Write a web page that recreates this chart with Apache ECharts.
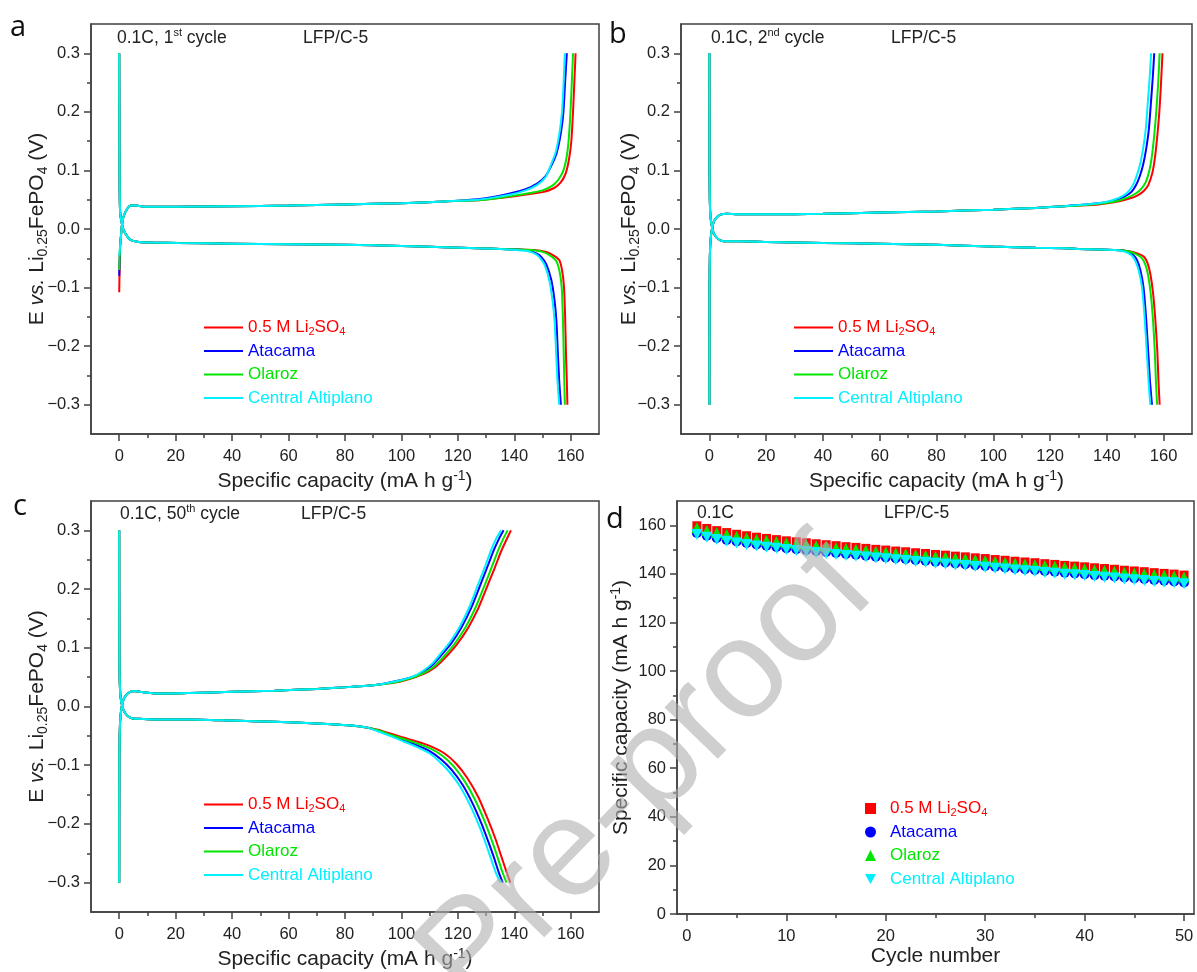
<!DOCTYPE html>
<html>
<head>
<meta charset="utf-8">
<script src="https://cdn.jsdelivr.net/npm/echarts/dist/echarts.min.js"></script>
<style>
html, body { margin: 0; padding: 0; background: #fff; }
#main { width: 1197px; height: 972px; }
</style>
</head>
<body>
<div id="main"></div>
<script>
// series order: red, blue, green, cyan (cyan drawn last, on top)
var SERIES_NAMES = ['0.5 M Li2SO4', 'Atacama', 'Olaroz', 'Central Altiplano'];
var COLORS = ['#ff0000', '#0000ff', '#00e600', '#00f0ff'];

// tick labels
var CAP_TICKS = [0, 20, 40, 60, 80, 100, 120, 140, 160];
var CAP_MINOR = [10, 30, 50, 70, 90, 110, 130, 150];
var E_TICKS = [-0.3, -0.2, -0.1, 0, 0.1, 0.2, 0.3];
var E_MINOR = [-0.25, -0.15, -0.05, 0.05, 0.15, 0.25];
var CYC_TICKS = [0, 10, 20, 30, 40, 50];
var CYC_MINOR = [5, 15, 25, 35, 45];
var SC_TICKS = [0, 20, 40, 60, 80, 100, 120, 140, 160];
var SC_MINOR = [10, 30, 50, 70, 90, 110, 130, 150];

// ---- panel a : 1st cycle ----
var A_CHG_START = [-0.108, -0.08, -0.07, -0.045];
var A_CHG_HEAD = [[0.3, -0.03], [0.6, -0.013], [0.9, 0.004], [1.5, 0.021], [2.9, 0.035], [4.1, 0.04], [6, 0.04], [9.4, 0.038],
  [20, 0.038], [40, 0.039], [60, 0.04], [80, 0.042], [100, 0.044], [115, 0.047]];
var A_CHG_TAIL = [
  [[127, 0.049], [133, 0.052], [140, 0.056], [146, 0.06], [150, 0.063], [154.1, 0.07], [156.5, 0.08], [158.2, 0.095], [159.4, 0.12], [160.2, 0.15], [160.8, 0.2], [161.2, 0.243], [161.7, 0.3]],
  [[127, 0.051], [133, 0.055], [138.8, 0.061], [144, 0.068], [148.2, 0.078], [151, 0.09], [152.9, 0.106], [155, 0.13], [156.5, 0.164], [157.4, 0.2], [157.9, 0.243], [158.6, 0.3]],
  [[127, 0.049], [133, 0.052], [140, 0.057], [146, 0.062], [150, 0.066], [153.5, 0.074], [155.7, 0.085], [157.4, 0.1], [158.6, 0.125], [159.3, 0.155], [159.9, 0.2], [160.3, 0.243], [160.8, 0.3]],
  [[127, 0.05], [133, 0.054], [138.8, 0.059], [144, 0.066], [148, 0.075], [151, 0.088], [152.6, 0.105], [154.6, 0.13], [156, 0.164], [156.9, 0.2], [157.4, 0.243], [157.9, 0.3]]
];
var A_DCH_HEAD = [[0, 0.3], [0.1, 0.1], [0.2, 0.05], [0.35, 0.027], [0.9, 0.01], [1.5, -0.001], [2.9, -0.013], [4.1, -0.019], [7, -0.022],
  [12, -0.023], [21, -0.024], [40, -0.025], [60, -0.026], [80, -0.027], [100, -0.029], [115, -0.031]];
var A_DCH_TAIL = [
  [[127, -0.033], [135, -0.034], [141, -0.035], [147, -0.036], [151, -0.039], [153.5, -0.044], [155.9, -0.053], [156.9, -0.07], [157.6, -0.099], [158, -0.15], [158.3, -0.212], [158.6, -0.26], [158.8, -0.3]],
  [[127, -0.033], [135, -0.034], [141, -0.035], [145, -0.037], [148, -0.042], [149.6, -0.048], [151.3, -0.06], [153.1, -0.087], [154.2, -0.12], [154.9, -0.156], [155.4, -0.21], [155.9, -0.26], [156.5, -0.3]],
  [[127, -0.033], [135, -0.034], [141, -0.035], [146, -0.036], [150, -0.039], [152.6, -0.045], [154.9, -0.055], [156, -0.072], [156.8, -0.1], [157.2, -0.15], [157.5, -0.212], [157.7, -0.26], [157.9, -0.3]],
  [[127, -0.033], [135, -0.034], [141, -0.036], [145, -0.038], [147.6, -0.043], [149.2, -0.05], [150.8, -0.062], [152.5, -0.09], [153.6, -0.125], [154.3, -0.16], [154.8, -0.21], [155.3, -0.26], [155.9, -0.3]]
];

// ---- panel b : 2nd cycle ----
var B_CHG_HEAD = [[0, -0.3], [0.05, -0.1], [0.15, -0.05], [0.4, -0.02], [0.9, 0], [1.6, 0.013], [2.8, 0.021], [4.2, 0.025], [6, 0.026],
  [10, 0.025], [20, 0.025], [40, 0.026], [60, 0.028], [80, 0.03], [100, 0.033], [115, 0.036], [125, 0.039]];
var B_CHG_TAIL = [
  [[130, 0.04], [137, 0.042], [143, 0.046], [148, 0.052], [151, 0.058], [153, 0.065], [154.6, 0.075], [156, 0.095], [156.9, 0.12], [157.8, 0.16], [158.5, 0.2], [159.1, 0.25], [159.6, 0.3]],
  [[130, 0.041], [137, 0.044], [142, 0.048], [146, 0.055], [148.6, 0.063], [150.3, 0.075], [151.6, 0.09], [152.8, 0.11], [153.8, 0.135], [154.8, 0.17], [155.6, 0.22], [156.2, 0.26], [156.7, 0.3]],
  [[130, 0.04], [137, 0.043], [143, 0.047], [147.5, 0.054], [150.3, 0.061], [152.2, 0.069], [153.7, 0.08], [154.9, 0.098], [155.8, 0.122], [156.7, 0.16], [157.4, 0.2], [158.1, 0.25], [158.6, 0.3]],
  [[130, 0.041], [137, 0.044], [142, 0.049], [145.5, 0.056], [147.8, 0.065], [149.4, 0.077], [150.6, 0.092], [151.7, 0.11], [152.7, 0.135], [153.7, 0.17], [154.5, 0.22], [155.1, 0.26], [155.6, 0.3]]
];
var B_DCH_HEAD = [[0, 0.3], [0.05, 0.1], [0.15, 0.05], [0.4, 0.02], [0.9, 0.004], [1.6, -0.008], [2.8, -0.016], [4.2, -0.02], [6, -0.021],
  [10, -0.021], [20, -0.022], [40, -0.024], [60, -0.025], [80, -0.027], [100, -0.03], [115, -0.032], [125, -0.033]];
var B_DCH_TAIL = [
  [[130, -0.034], [137, -0.035], [143, -0.036], [148, -0.038], [151, -0.042], [153, -0.047], [154.3, -0.058], [155.3, -0.076], [156.3, -0.11], [157.1, -0.156], [157.8, -0.21], [158.2, -0.26], [158.6, -0.3]],
  [[130, -0.034], [137, -0.035], [143, -0.036], [147, -0.038], [149.2, -0.044], [150.6, -0.053], [151.8, -0.07], [152.9, -0.099], [153.8, -0.15], [154.6, -0.212], [155.2, -0.26], [155.9, -0.3]],
  [[130, -0.034], [137, -0.035], [143, -0.036], [147.5, -0.038], [150.3, -0.043], [152.2, -0.049], [153.5, -0.06], [154.5, -0.078], [155.5, -0.112], [156.3, -0.158], [156.9, -0.21], [157.3, -0.26], [157.7, -0.3]],
  [[130, -0.034], [137, -0.035], [143, -0.036], [146.5, -0.039], [148.7, -0.045], [150.1, -0.055], [151.3, -0.072], [152.4, -0.1], [153.3, -0.15], [154.1, -0.212], [154.7, -0.26], [155.3, -0.3]]
];

// ---- panel c : 50th cycle ----
var C_CHG_HEAD = [[0, -0.3], [0.05, -0.1], [0.15, -0.05], [0.4, -0.02], [0.9, 0], [1.7, 0.014], [3, 0.022], [4.5, 0.026], [6, 0.026],
  [9, 0.024], [15, 0.022], [25, 0.023], [40, 0.025], [55, 0.027], [70, 0.03], [81, 0.033], [90, 0.036]];
var C_CHG_TAIL = [
  [[95, 0.039], [100, 0.043], [105, 0.05], [109.4, 0.059], [112.5, 0.069], [115.3, 0.082], [119.5, 0.105], [123.5, 0.133], [127.3, 0.168], [130.6, 0.207], [133.2, 0.238], [135.3, 0.264], [137.2, 0.284], [138.8, 0.3]],
  [[95, 0.04], [100, 0.045], [105, 0.052], [108.6, 0.062], [111.3, 0.072], [113.7, 0.085], [117.7, 0.108], [121.4, 0.136], [125, 0.171], [128.2, 0.21], [130.7, 0.241], [132.8, 0.267], [134.6, 0.286], [136.2, 0.3]],
  [[95, 0.039], [100, 0.044], [105, 0.051], [109, 0.06], [112, 0.07], [114.6, 0.083], [118.7, 0.106], [122.6, 0.134], [126.3, 0.169], [129.6, 0.208], [132.1, 0.239], [134.2, 0.265], [136, 0.285], [137.6, 0.3]],
  [[95, 0.04], [100, 0.045], [105, 0.053], [108.3, 0.063], [110.9, 0.073], [113.2, 0.086], [117.1, 0.109], [120.8, 0.137], [124.3, 0.172], [127.4, 0.211], [129.9, 0.242], [131.9, 0.268], [133.7, 0.287], [135.3, 0.3]]
];
var C_DCH_HEAD = [[0, 0.3], [0.05, 0.1], [0.15, 0.05], [0.4, 0.02], [0.9, 0.004], [1.7, -0.008], [3, -0.016], [4.5, -0.02], [7, -0.021],
  [12, -0.022], [25, -0.022], [40, -0.024], [55, -0.026], [70, -0.029], [81, -0.032], [88, -0.036]];
var C_DCH_TAIL = [
  [[92, -0.04], [96, -0.046], [100, -0.052], [105, -0.059], [110, -0.067], [115.3, -0.08], [119.5, -0.098], [123.5, -0.123], [127.3, -0.155], [130.6, -0.192], [133.2, -0.224], [135.3, -0.254], [137.1, -0.28], [138.6, -0.3]],
  [[92, -0.042], [96, -0.049], [100, -0.056], [105, -0.065], [110, -0.076], [114, -0.09], [117.8, -0.108], [121.6, -0.133], [125.2, -0.165], [128.4, -0.2], [130.9, -0.232], [132.9, -0.259], [134.5, -0.283], [135.9, -0.3]],
  [[92, -0.041], [96, -0.048], [100, -0.054], [105, -0.062], [110, -0.071], [114.5, -0.084], [118.5, -0.102], [122.5, -0.128], [126.2, -0.16], [129.5, -0.196], [132, -0.228], [134, -0.256], [135.7, -0.281], [137.2, -0.3]],
  [[92, -0.043], [96, -0.05], [100, -0.058], [105, -0.068], [110, -0.08], [113.5, -0.094], [117.1, -0.112], [120.6, -0.135], [124.3, -0.168], [127.5, -0.203], [130, -0.235], [131.9, -0.262], [133.6, -0.285], [135.1, -0.3]]
];

// ---- panel d : capacity vs cycle ----
var CYCLES = [1, 2, 3, 4, 5, 6, 7, 8, 9, 10, 11, 12, 13, 14, 15, 16, 17, 18, 19, 20, 21, 22, 23, 24, 25,
  26, 27, 28, 29, 30, 31, 32, 33, 34, 35, 36, 37, 38, 39, 40, 41, 42, 43, 44, 45, 46, 47, 48, 49, 50];
var CAP_LI2SO4 = [159.8, 158.7, 157.8, 157.0, 156.3, 155.7, 155.1, 154.6, 154.1, 153.6, 153.2, 152.8, 152.4, 152.0, 151.6,
  151.2, 150.9, 150.5, 150.1, 149.8, 149.4, 149.1, 148.7, 148.4, 148.0, 147.7, 147.3, 147.0, 146.6, 146.3, 145.9, 145.6,
  145.2, 144.9, 144.6, 144.2, 143.9, 143.5, 143.2, 142.9, 142.5, 142.2, 141.9, 141.5, 141.2, 140.9, 140.5, 140.2, 139.9, 139.5];
var CAP_ATACAMA = [156.8, 155.7, 154.8, 154.0, 153.3, 152.7, 152.1, 151.6, 151.1, 150.6, 150.2, 149.8, 149.4, 149.0, 148.6,
  148.2, 147.9, 147.5, 147.1, 146.8, 146.4, 146.1, 145.7, 145.4, 145.0, 144.7, 144.3, 144.0, 143.6, 143.3, 142.9, 142.6,
  142.2, 141.9, 141.6, 141.2, 140.9, 140.5, 140.2, 139.9, 139.5, 139.2, 138.9, 138.5, 138.2, 137.9, 137.5, 137.2, 136.9, 136.5];
var CAP_OLAROZ = [159.0, 157.9, 157.0, 156.2, 155.5, 154.9, 154.3, 153.8, 153.3, 152.8, 152.4, 152.0, 151.6, 151.2, 150.8,
  150.4, 150.1, 149.7, 149.3, 149.0, 148.6, 148.3, 147.9, 147.6, 147.2, 146.9, 146.5, 146.2, 145.8, 145.5, 145.1, 144.8,
  144.4, 144.1, 143.8, 143.4, 143.1, 142.7, 142.4, 142.1, 141.7, 141.4, 141.1, 140.7, 140.4, 140.1, 139.7, 139.4, 139.1, 138.7];
var CAP_ALTIPLANO = [156.2, 155.1, 154.2, 153.4, 152.7, 152.1, 151.5, 151.0, 150.5, 150.0, 149.6, 149.2, 148.8, 148.4, 148.0,
  147.6, 147.3, 146.9, 146.5, 146.2, 145.8, 145.5, 145.1, 144.8, 144.4, 144.1, 143.7, 143.4, 143.0, 142.7, 142.3, 142.0,
  141.6, 141.3, 141.0, 140.6, 140.3, 139.9, 139.6, 139.3, 138.9, 138.6, 138.3, 137.9, 137.6, 137.3, 136.9, 136.6, 136.3, 135.9];

var FONT = '"Liberation Sans", Arial, sans-serif';
var INK = '#222';
var AXIS_COLOR = '#404040';

function richSet(size, color) {
  return {
    n: { fontSize: size, lineHeight: size + 4, verticalAlign: 'middle', color: color, fontFamily: FONT },
    i: { fontSize: size, lineHeight: size + 4, verticalAlign: 'middle', color: color, fontFamily: FONT, fontStyle: 'italic' },
    sub: { fontSize: Math.round(size * 0.65), verticalAlign: 'bottom', color: color, fontFamily: FONT },
    sup: { fontSize: Math.round(size * 0.65), verticalAlign: 'top', color: color, fontFamily: FONT }
  };
}

var chart = echarts.init(document.getElementById('main'));

var grids = [
  { left: 91, top: 24, width: 508, height: 410 },
  { left: 681, top: 24, width: 511, height: 410 },
  { left: 91, top: 501, width: 508, height: 411 },
  { left: 677, top: 501, width: 517, height: 413 }
];
grids.forEach(function (g) {
  g.show = true; g.borderColor = AXIS_COLOR; g.borderWidth = 1.5; g.backgroundColor = 'transparent';
});

var CAP_NAME = '{n|Specific capacity (mA h g}{sup|-1}{n|)}';
var E_NAME = '{n|E }{i|vs.}{n| Li}{sub|0.25}{n|FePO}{sub|4}{n| (V)}';

function fmtE(v) { return (v < 0 ? '\u2212' : '') + Math.abs(v).toFixed(1); }

function mainAxis(gi, pos, min, max, ticks, name, nameGap, fmt, labelMargin) {
  return {
    type: 'value', gridIndex: gi, position: pos, min: min, max: max,
    name: name, nameLocation: 'middle', nameGap: nameGap, nameMoveOverlap: false,
    nameTextStyle: { fontSize: 21, fontFamily: FONT, color: INK, rich: richSet(21, INK) },
    axisLine: { show: true, onZero: false, lineStyle: { color: AXIS_COLOR, width: 1.5 } },
    axisTick: { show: true, inside: false, length: 7, customValues: ticks, lineStyle: { color: AXIS_COLOR, width: 1.5 } },
    axisLabel: { show: true, customValues: ticks, margin: labelMargin, fontSize: 16.5, fontFamily: FONT, color: INK, formatter: fmt },
    splitLine: { show: false }
  };
}
function minorAxis(gi, pos, min, max, ticks) {
  return {
    type: 'value', gridIndex: gi, position: pos, min: min, max: max,
    axisLine: { show: false, onZero: false },
    axisTick: { show: true, inside: false, length: 4, customValues: ticks, lineStyle: { color: AXIS_COLOR, width: 1.5 } },
    axisLabel: { show: false },
    splitLine: { show: false }
  };
}

function plain(v) { return String(v); }

var xAxes = [], yAxes = [];
for (var p = 0; p < 3; p++) {
  xAxes.push(mainAxis(p, 'bottom', -10, 170, CAP_TICKS, CAP_NAME, 35, plain, 14));
  xAxes.push(minorAxis(p, 'bottom', -10, 170, CAP_MINOR));
  yAxes.push(mainAxis(p, 'left', -0.35, 0.35, E_TICKS, E_NAME, p === 1 ? 39 : 41, fmtE, 11));
  yAxes.push(minorAxis(p, 'left', -0.35, 0.35, E_MINOR));
}
xAxes.push(mainAxis(3, 'bottom', -1, 51, CYC_TICKS, 'Cycle number', 32, plain, 14));
xAxes.push(minorAxis(3, 'bottom', -1, 51, CYC_MINOR));
yAxes.push(mainAxis(3, 'left', 0, 170, SC_TICKS, CAP_NAME, 43, plain, 11));
yAxes.push(minorAxis(3, 'left', 0, 170, SC_MINOR));

var series = [];
function addCurves(panel, chgHeads, chgTails, dchHead, dchTails) {
  for (var k = 0; k < 4; k++) {
    var common = {
      name: SERIES_NAMES[k], type: 'line', xAxisIndex: panel * 2, yAxisIndex: panel * 2,
      symbol: 'none', showSymbol: false, smooth: 0.2, animation: false,
      lineStyle: { width: 2, color: COLORS[k] }, itemStyle: { color: COLORS[k] }, z: 2 + k
    };
    series.push(Object.assign({}, common, { data: dchHead.concat(dchTails[k]) }));
    series.push(Object.assign({}, common, { data: chgHeads[k].concat(chgTails[k]) }));
  }
}
addCurves(0, A_CHG_START.map(function (s) { return [[0, s]].concat(A_CHG_HEAD); }), A_CHG_TAIL, A_DCH_HEAD, A_DCH_TAIL);
addCurves(1, [B_CHG_HEAD, B_CHG_HEAD, B_CHG_HEAD, B_CHG_HEAD], B_CHG_TAIL, B_DCH_HEAD, B_DCH_TAIL);
addCurves(2, [C_CHG_HEAD, C_CHG_HEAD, C_CHG_HEAD, C_CHG_HEAD], C_CHG_TAIL, C_DCH_HEAD, C_DCH_TAIL);

var CAPS = [CAP_LI2SO4, CAP_ATACAMA, CAP_OLAROZ, CAP_ALTIPLANO];
var SYMBOLS = ['rect', 'circle', 'triangle', 'triangle'];
var SYMBOL_ROT = [0, 0, 0, 180];
var SYMBOL_SIZE = [9, 10, 11, 11];
for (var k = 0; k < 4; k++) {
  series.push({
    name: SERIES_NAMES[k], type: 'scatter', xAxisIndex: 6, yAxisIndex: 6, animation: false,
    symbol: SYMBOLS[k], symbolRotate: SYMBOL_ROT[k], symbolSize: SYMBOL_SIZE[k],
    itemStyle: { color: COLORS[k], opacity: 1 }, z: 2 + k,
    data: CYCLES.map(function (c, i) { return [c, CAPS[k][i]]; })
  });
}

var legendRich = {
  rn: { color: COLORS[0], fontSize: 17, lineHeight: 19, verticalAlign: 'middle', fontFamily: FONT },
  rs: { color: COLORS[0], fontSize: 11, verticalAlign: 'bottom', fontFamily: FONT }
};
function legendFmt(name) {
  return name === SERIES_NAMES[0] ? '{rn|0.5 M Li}{rs|2}{rn|SO}{rs|4}' : name;
}
function lineLegend(left, top) {
  return {
    left: left, top: top, padding: 0, orient: 'vertical', icon: 'rect', itemWidth: 39, itemHeight: 2, itemGap: 4.5,
    selectedMode: false, formatter: legendFmt,
    textStyle: { fontSize: 17, lineHeight: 19, fontFamily: FONT, rich: legendRich },
    data: SERIES_NAMES.map(function (n, k) { return { name: n, textStyle: { color: COLORS[k] } }; })
  };
}
var D_ICONS = ['rect', 'circle', 'triangle', 'path://M0,0L10,0L5,9Z'];
var legends = [
  lineLegend(204, 318),
  lineLegend(794, 318),
  lineLegend(204, 795),
  {
    left: 865, top: 799, padding: 0, orient: 'vertical', itemWidth: 11, itemHeight: 11, itemGap: 4.5,
    selectedMode: false, formatter: legendFmt,
    textStyle: { fontSize: 17, lineHeight: 19, fontFamily: FONT, rich: legendRich, padding: [0, 0, 0, 9] },
    data: SERIES_NAMES.map(function (n, k) { return { name: n, icon: D_ICONS[k], textStyle: { color: COLORS[k] } }; })
  }
];

function note(x, y, text, size) {
  return {
    type: 'text', x: x, y: y, z: 50,
    style: { text: text, rich: richSet(size, INK), fontSize: size, fontFamily: FONT, fill: INK,
      textAlign: 'left', textVerticalAlign: 'middle', align: 'left', verticalAlign: 'middle' }
  };
}
function letter(x, y, t) {
  return {
    type: 'text', x: x, y: y, z: 50,
    style: { text: t, fontSize: 29, fontFamily: '"Open Sans", sans-serif', fill: '#111',
      textAlign: 'left', textVerticalAlign: 'middle', align: 'left', verticalAlign: 'middle' }
  };
}

var graphics = [
  letter(10, 28, 'a'), letter(609, 35, 'b'), letter(13, 507, 'c'), letter(606, 520, 'd'),
  note(117, 38, '{n|0.1C, 1}{sup|st}{n| cycle}', 17.5), note(303, 38, '{n|LFP/C-5}', 17.5),
  note(711, 38, '{n|0.1C, 2}{sup|nd}{n| cycle}', 17.5), note(891, 38, '{n|LFP/C-5}', 17.5),
  note(120, 514, '{n|0.1C, 50}{sup|th}{n| cycle}', 17.5), note(301, 514, '{n|LFP/C-5}', 17.5),
  note(697, 513, '{n|0.1C}', 17.5), note(884, 513, '{n|LFP/C-5}', 17.5),
  {
    type: 'text', x: 648, y: 775, rotation: 0.8, z: 100, silent: true,
    style: { text: 'Pre-proof', fontSize: 140, fontFamily: FONT, fill: 'rgba(175,175,175,0.6)',
      textAlign: 'center', textVerticalAlign: 'middle', align: 'center', verticalAlign: 'middle' }
  }
];

chart.setOption({
  backgroundColor: '#ffffff',
  animation: false,
  grid: grids,
  xAxis: xAxes,
  yAxis: yAxes,
  legend: legends,
  graphic: graphics,
  series: series
});
</script>
</body>
</html>
